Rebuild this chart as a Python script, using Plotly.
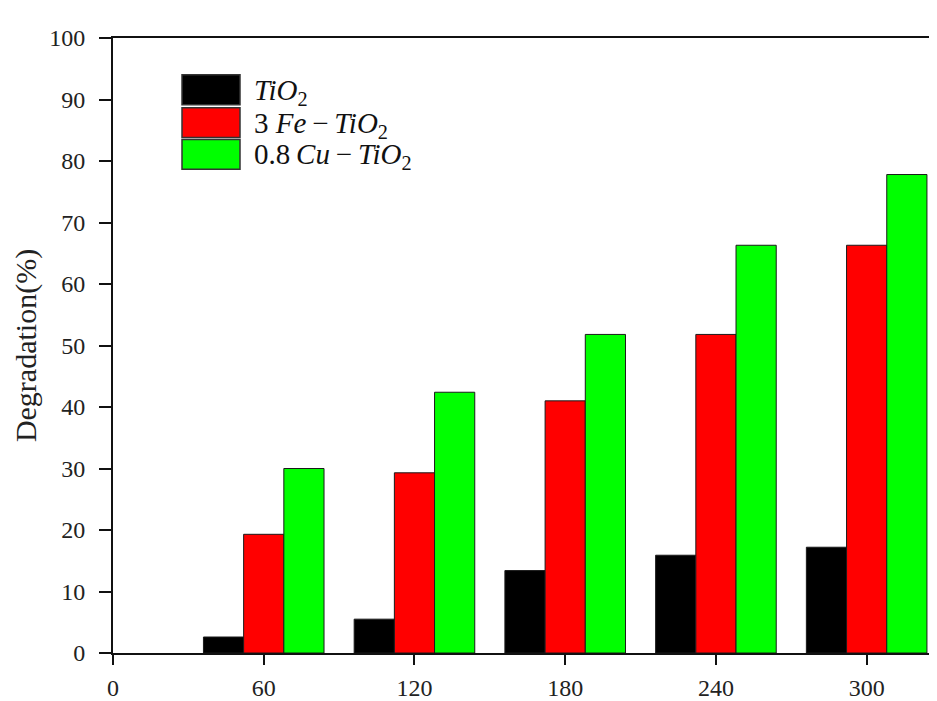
import plotly.graph_objects as go

times = [60, 120, 180, 240, 300]
tio2 = [2.6, 5.5, 13.4, 15.9, 17.2]
fe_tio2 = [19.3, 29.3, 41.0, 51.8, 66.3]
cu_tio2 = [30.0, 42.4, 51.8, 66.3, 77.8]

labels = ["<i>TiO</i><sub>2</sub>",
          "3 <i>Fe</i>\u2009\u2212\u2009<i>TiO</i><sub>2</sub>",
          "0.8\u2009<i>Cu</i>\u2009\u2212\u2009<i>TiO</i><sub>2</sub>"]
colors = ["#000000", "#ff0000", "#00ff00"]
series = [tio2, fe_tio2, cu_tio2]
offsets = [-24, -8, 8]
bar_w = 16

PAD = 8  # default page body margin
W, H = 937 - PAD, 701 - PAD
ml, mt, mb, mr = 113 - PAD, 38 - PAD, 45, 0

fig = go.Figure()
for vals, col, off, lab in zip(series, colors, offsets, labels):
    fig.add_trace(go.Bar(x=times, y=vals, width=bar_w, offset=off,
                         marker=dict(color=col, line=dict(color="#1a1a1a", width=1)),
                         name=lab, showlegend=False))

font = "Liberation Serif, Times New Roman, serif"
fig.update_layout(
    width=W, height=H, margin=dict(l=ml, r=mr, t=mt, b=mb),
    plot_bgcolor="white", paper_bgcolor="white", barmode="overlay",
    font=dict(family=font, size=24, color="#222222"),
    xaxis=dict(range=[0, 328], tickvals=[0, 60, 120, 180, 240, 300], ticks="outside",
               ticklen=10, tickwidth=2, tickcolor="#111111", showline=True,
               linecolor="#111111", linewidth=2, mirror=True, showgrid=False,
               zeroline=False, tickfont=dict(size=24), ticklabelstandoff=2),
    yaxis=dict(range=[0, 100], dtick=10, ticks="outside", ticklen=12, tickwidth=2,
               tickcolor="#111111", showline=True, linecolor="#111111", linewidth=2,
               mirror=False, showgrid=False, zeroline=False, tickfont=dict(size=24),
               ticklabelstandoff=9,
               title=dict(text="Degradation(%)", font=dict(size=30), standoff=4)),
)

# custom legend (large swatches), positions given in page pixels
pw = W - ml - mr
ph = H - mt - mb
def px_x(p):
    return (p - PAD - ml) / pw
def px_y(p):
    return 1 - (p - PAD - mt) / ph

rows = [(75, 105), (108, 138), (140, 170)]
for (y0, y1), col, lab in zip(rows, colors, labels):
    fig.add_shape(type="rect", xref="paper", yref="paper",
                  x0=px_x(182), x1=px_x(240), y0=px_y(y1), y1=px_y(y0),
                  fillcolor=col, line=dict(color="#333333", width=1.5))
    fig.add_annotation(xref="paper", yref="paper", x=px_x(252), y=px_y((y0 + y1) / 2 + 2),
                       text=lab, showarrow=False, xanchor="left", yanchor="middle",
                       font=dict(family=font, size=29, color="#111111"))

fig.write_html("out.html")
